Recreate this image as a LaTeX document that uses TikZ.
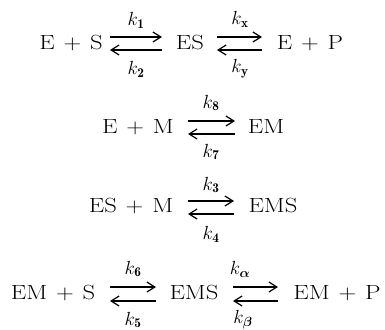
\RequirePackage{fix-cm}
\documentclass[tikz,border=0pt]{standalone}
\usepackage{fontspec}
\usetikzlibrary{arrows.meta}
\usepackage{graphicx}
\usepackage{bm}
\newcommand\stx[1]{\scalebox{1.2}[1]{#1}}
\newcommand\pl{\hspace{0.36em}+\hspace{0.36em}}
\begin{document}
\begin{tikzpicture}[x=1pt,y=-1pt,
  sp/.style={inner sep=0pt, anchor=base, font=\fontsize{20.5}{24}\selectfont},
  kl/.style={inner sep=0pt, font=\fontsize{19}{22}\selectfont},
  rxn/.style={line width=1.2pt, -{Straight Barb[length=8pt,width=10pt]}}]
\useasboundingbox (0,0) rectangle (385,329);
\clip (0,0) rectangle (385,329);
% row 1
\node[sp] (r1a) at (71,49) {\stx{E\pl S}};
\node[sp] (r1b) at (190,49) {\stx{ES}};
\node[sp] (r1c) at (310,49) {\stx{E\pl P}};
\draw[rxn] ([shift={(39,-12)}]r1a.base) -- ([shift={(-28,-12)}]r1b.base);
\draw[rxn] ([shift={(-28,1)}]r1b.base) -- ([shift={(39,1)}]r1a.base);
\draw[rxn] ([shift={(27,-12)}]r1b.base) -- ([shift={(-48,-12)}]r1c.base);
\draw[rxn] ([shift={(-48,1)}]r1c.base) -- ([shift={(27,1)}]r1b.base);
\node[kl] (k1) at (136,20) {$k_{\mathbf{1}}$};
\node[kl] (k2) at (136,69) {$k_{\mathbf{2}}$};
\node[kl] (kx) at (240,19) {$k_{\mathbf{x}}$};
\node[kl] (ky) at (240,69) {$k_{\mathbf{y}}$};
% row 2
\node[sp] (r2a) at (138,133) {\stx{E\pl M}};
\node[sp] (r2b) at (266,133) {\stx{EM}};
\draw[rxn] ([shift={(50,-12)}]r2a.base) -- ([shift={(-31,-12)}]r2b.base);
\draw[rxn] ([shift={(-31,1)}]r2b.base) -- ([shift={(50,1)}]r2a.base);
\node[kl] (k8) at (211,103) {$k_{\mathbf{8}}$};
\node[kl] (k7) at (211,152) {$k_{\mathbf{7}}$};
% row 3
\node[sp] (r3a) at (131,212) {\stx{ES\pl M}};
\node[sp] (r3b) at (273,212) {\stx{EMS}};
\draw[rxn] ([shift={(57,-11)}]r3a.base) -- ([shift={(-39,-11)}]r3b.base);
\draw[rxn] ([shift={(-39,2)}]r3b.base) -- ([shift={(57,2)}]r3a.base);
\node[kl] (k3) at (211,185) {$k_{\mathbf{3}}$};
\node[kl] (k4) at (211,234) {$k_{\mathbf{4}}$};
% row 4
\node[sp] (r4a) at (53,299) {\stx{EM\pl S}};
\node[sp] (r4b) at (194,299) {\stx{EMS}};
\node[sp] (r4c) at (337,299) {\stx{EM\pl P}};
\draw[rxn] ([shift={(57,-12)}]r4a.base) -- ([shift={(-38,-12)}]r4b.base);
\draw[rxn] ([shift={(-38,2)}]r4b.base) -- ([shift={(57,2)}]r4a.base);
\draw[rxn] ([shift={(39,-12)}]r4b.base) -- ([shift={(-59,-12)}]r4c.base);
\draw[rxn] ([shift={(-59,2)}]r4c.base) -- ([shift={(39,2)}]r4b.base);
\node[kl] (k6) at (133,269) {$k_{\mathbf{6}}$};
\node[kl] (k5) at (133,320) {$k_{\mathbf{5}}$};
\node[kl] (ka) at (240,269) {$k_{\bm{\alpha}}$};
\node[kl] (kb) at (243,320) {$k_{\bm{\beta}}$};
\end{tikzpicture}
\end{document}
